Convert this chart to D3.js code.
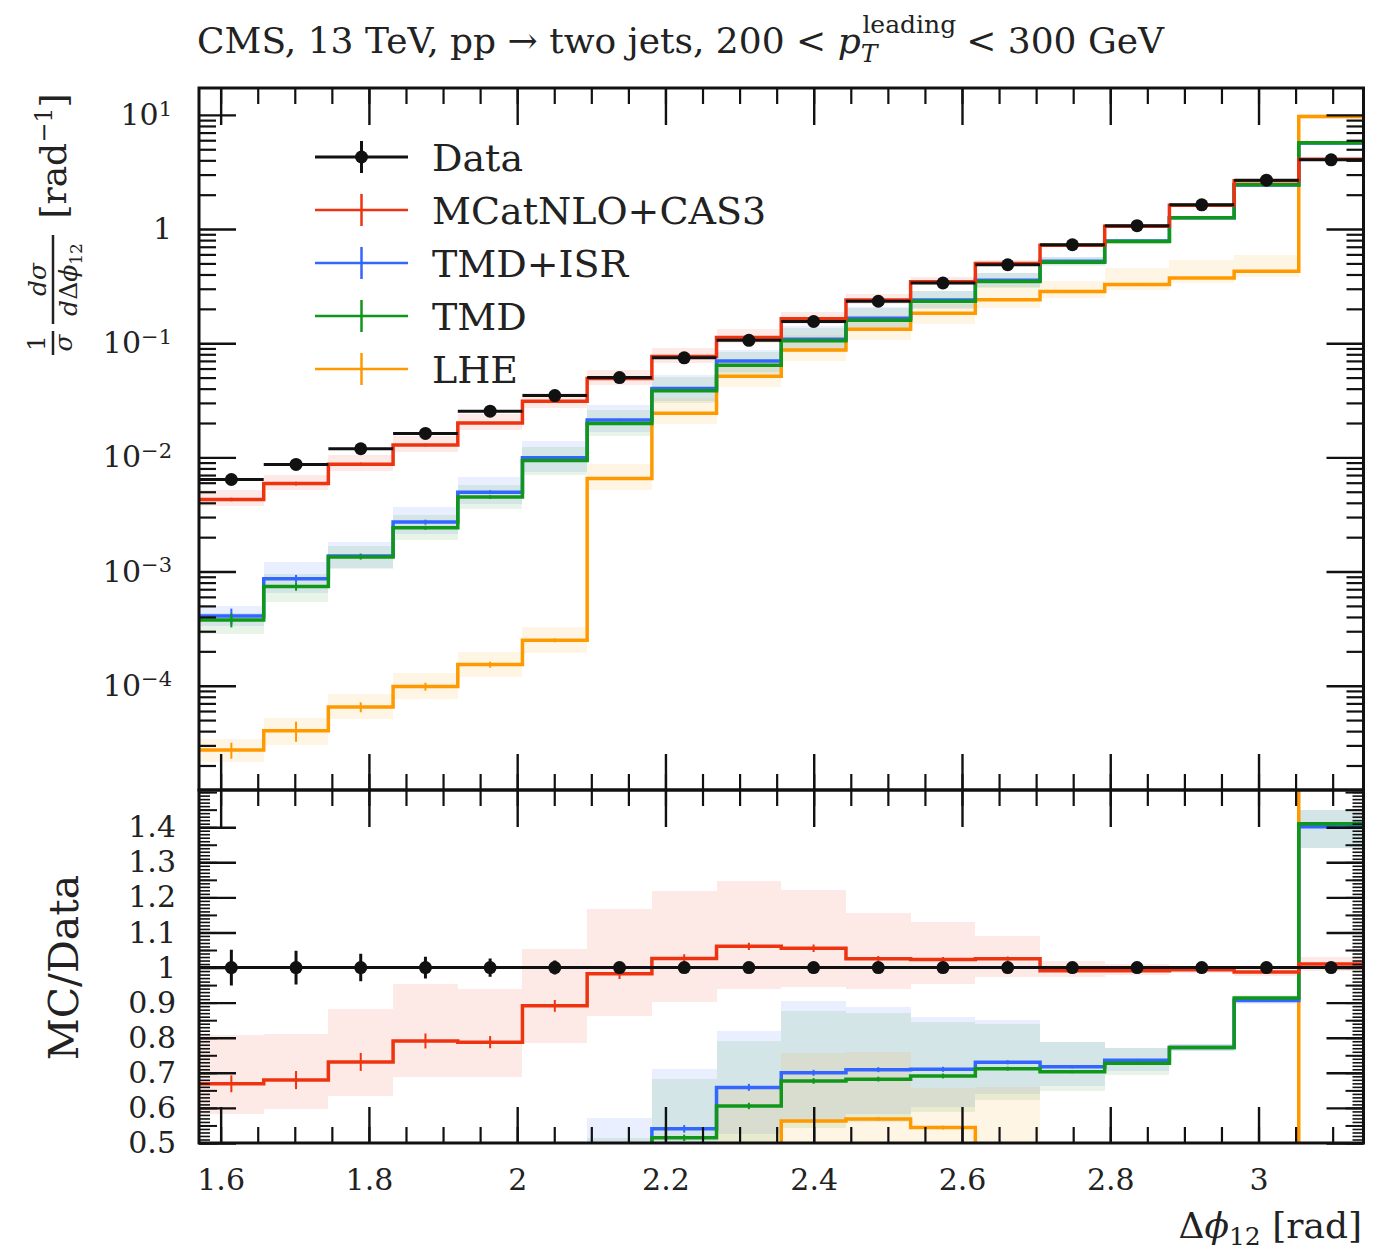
<!DOCTYPE html>
<html>
<head>
<meta charset="utf-8">
<script src="https://cdn.jsdelivr.net/npm/d3@7"></script>
<style>
  body { margin: 0; background: #fff; }
  svg text { font-family: "DejaVu Serif", "Liberation Serif", serif; fill: #222; white-space: pre; }
</style>
</head>
<body>
<div id="chart"></div>
<script>
var width = 1383,
    height = 1251;

var left = 199, right = 1363.5,
    plotTop = 88, mid = 790, plotBottom = 1143;

var colors =
  { red: "#EE3311",
    blue: "#3366FF",
    green: "#109618",
    orange: "#FF9900",
    black: "#111"
  };

// bin edges in delta phi (pi/2 .. pi, 18 bins)
var binEdges = [1.5708, 1.6581, 1.7453, 1.8326, 1.9199, 2.0071, 2.0944, 2.1817, 2.2689,
                2.3562, 2.4435, 2.5307, 2.6180, 2.7053, 2.7925, 2.8798, 2.9671, 3.0543, 3.1416];

// CMS data, 1/sigma dsigma/ddphi
var data = [0.0064, 0.00867, 0.0119, 0.0162, 0.0254, 0.0348, 0.0500, 0.0744, 0.106,
            0.155, 0.233, 0.337, 0.487, 0.729, 1.07, 1.63, 2.68, 4.04];
var dataErr = [0.051, 0.048, 0.039, 0.031, 0.026, 0.020, 0.015, 0.012, 0.010,
               0.010, 0.009, 0.008, 0.008, 0.006, 0.006, 0.006, 0.005, 0.005];

// MCatNLO+CAS3
var mcatnlo = [0.00428, 0.00589, 0.00870, 0.01281, 0.0200, 0.0310, 0.0491, 0.0763, 0.1124,
               0.1635, 0.2388, 0.3448, 0.4992, 0.7224, 1.0604, 1.6202, 2.6452, 4.080];
var mcatnloUp = [0.207, 0.193, 0.207, 0.205, 0.193, 0.182, 0.189, 0.188, 0.176,
                 0.158, 0.127, 0.105, 0.063, 0.029, 0.018, 0.010, 0.014, 0.020];
var mcatnloDn = [0.129, 0.122, 0.133, 0.131, 0.127, 0.120, 0.121, 0.121, 0.114,
                 0.105, 0.083, 0.068, 0.052, 0.019, 0.011, 0.010, 0.010, 0.019];
var mcatnloStat = [0.036, 0.038, 0.035, 0.027, 0.022, 0.019, 0.015, 0.012, 0.010,
                   0.010, 0.008, 0.007, 0.006, 0.005, 0.004, 0.004, 0.003, 0.003];

// TMD+ISR
var tmdIsr = [0.000408, 0.000865, 0.00137, 0.00271, 0.00496, 0.0099, 0.0212, 0.0402, 0.0698,
              0.1085, 0.1652, 0.2393, 0.3555, 0.5227, 0.7875, 1.2584, 2.428, 5.660];
var tmdIsrUp = [0.22, 0.40, 0.32, 0.35, 0.35, 0.40, 0.35, 0.317, 0.246,
                0.294, 0.251, 0.208, 0.164, 0.098, 0.049, 0.012, 0.010, 0.034];
var tmdIsrDn = [0.18, 0.25, 0.22, 0.22, 0.22, 0.25, 0.22, 0.22, 0.20,
                0.20, 0.18, 0.15, 0.125, 0.075, 0.041, 0.012, 0.010, 0.044];
var tmdIsrStat = [0.16, 0.08, 0.05, 0.05, 0.04, 0.03, 0.025, 0.02, 0.015,
                  0.012, 0.01, 0.01, 0.008, 0.006, 0.005, 0.004, 0.003, 0.003];

// TMD
var tmd = [0.000377, 0.000738, 0.00134, 0.00242, 0.00449, 0.0094, 0.0198, 0.0383, 0.0642,
           0.1049, 0.1589, 0.2329, 0.3467, 0.5125, 0.7779, 1.2584, 2.4468, 5.696];
var tmdUp = [0.15, 0.30, 0.25, 0.28, 0.28, 0.30, 0.30, 0.326, 0.304,
             0.295, 0.276, 0.223, 0.18, 0.12, 0.062, 0.012, 0.010, 0.028];
var tmdDn = [0.25, 0.26, 0.22, 0.22, 0.22, 0.25, 0.22, 0.22, 0.20,
             0.20, 0.18, 0.15, 0.125, 0.08, 0.045, 0.012, 0.010, 0.05];
var tmdStat = [0.14, 0.08, 0.05, 0.04, 0.035, 0.03, 0.02, 0.018, 0.015,
               0.012, 0.01, 0.01, 0.008, 0.006, 0.005, 0.004, 0.003, 0.003];

// LHE
var lhe = [0.0000273, 0.0000403, 0.0000650, 0.0000984, 0.000153, 0.000250, 0.00653, 0.0243, 0.0514,
           0.0872, 0.1325, 0.1833, 0.240, 0.284, 0.326, 0.372, 0.426, 9.66];
var lheUp = [0.25, 0.30, 0.30, 0.30, 0.30, 0.30, 0.35, 0.35, 0.35,
             0.346, 0.336, 0.21, 0.34, 0.24, 0.40, 0.45, 0.40, 0.05];
var lheDn = [0.22, 0.25, 0.22, 0.22, 0.22, 0.22, 0.20, 0.20, 0.20,
             0.20, 0.20, 0.20, 0.15, 0.12, 0.10, 0.10, 0.10, 0.05];
var lheStat = [0.16, 0.20, 0.10, 0.08, 0.06, 0.04, 0.02, 0.015, 0.012,
               0.01, 0.01, 0.01, 0.008, 0.006, 0.005, 0.004, 0.004, 0.003];

var xMajor = [1.6, 1.8, 2.0, 2.2, 2.4, 2.6, 2.8, 3.0];
var yDecades = [1e-4, 1e-3, 1e-2, 1e-1, 1, 10];
var decadeLabels = [["10", "\u22124"], ["10", "\u22123"], ["10", "\u22122"], ["10", "\u22121"], ["1", ""], ["10", "1"]];
var ratioMajor = [0.5, 0.6, 0.7, 0.8, 0.9, 1.0, 1.1, 1.2, 1.3, 1.4];

var series = [
  { name: "MCatNLO+CAS3", color: colors.red, vals: mcatnlo, up: mcatnloUp, dn: mcatnloDn, stat: mcatnloStat },
  { name: "TMD+ISR", color: colors.blue, vals: tmdIsr, up: tmdIsrUp, dn: tmdIsrDn, stat: tmdIsrStat },
  { name: "TMD", color: colors.green, vals: tmd, up: tmdUp, dn: tmdDn, stat: tmdStat },
  { name: "LHE", color: colors.orange, vals: lhe, up: lheUp, dn: lheDn, stat: lheStat }
];
// draw order of the lines (red ends on top)
var lineOrder = [3, 1, 2, 0];

var x = d3.scaleLinear().domain([binEdges[0], binEdges[binEdges.length - 1]]).range([left, right]);
var yTop = d3.scaleLog().domain([1.22e-5, 17.2]).range([mid, plotTop]);
var yRat = d3.scaleLinear().domain([0.5, 1.506]).range([plotBottom, mid]);

var svg = d3.select("#chart").append("svg")
    .attr("width", width)
    .attr("height", height);

svg.append("rect").attr("width", width).attr("height", height).attr("fill", "#fff");

var defs = svg.append("defs");
defs.append("clipPath").attr("id", "clipTop").append("rect")
    .attr("x", left).attr("y", plotTop).attr("width", right - left).attr("height", mid - plotTop);
defs.append("clipPath").attr("id", "clipRat").append("rect")
    .attr("x", left).attr("y", mid).attr("width", right - left).attr("height", plotBottom - mid);

var topG = svg.append("g").attr("clip-path", "url(#clipTop)");
var ratG = svg.append("g").attr("clip-path", "url(#clipRat)");

var binMid = function(i) { return (binEdges[i] + binEdges[i + 1]) / 2; };

var stepPoints = function(vals, fy) {
  var pts = [];
  vals.forEach(function(v, i) {
    pts.push([x(binEdges[i]), fy(v, i)]);
    pts.push([x(binEdges[i + 1]), fy(v, i)]);
  });
  return pts;
};
var line = d3.line();

// --- bands
series.forEach(function(s) {
  topG.append("g").selectAll("rect").data(s.vals).enter().append("rect")
      .attr("x", function(d, i) { return x(binEdges[i]); })
      .attr("width", function(d, i) { return x(binEdges[i + 1]) - x(binEdges[i]); })
      .attr("y", function(d, i) { return yTop(d * (1 + s.up[i])); })
      .attr("height", function(d, i) { return yTop(d * (1 - s.dn[i])) - yTop(d * (1 + s.up[i])); })
      .attr("shape-rendering", "crispEdges")
      .style("fill", s.color).style("opacity", 0.1);

  ratG.append("g").selectAll("rect").data(s.vals).enter().append("rect")
      .attr("x", function(d, i) { return x(binEdges[i]); })
      .attr("width", function(d, i) { return x(binEdges[i + 1]) - x(binEdges[i]); })
      .attr("y", function(d, i) { return yRat(d / data[i] * (1 + s.up[i])); })
      .attr("height", function(d, i) { return yRat(d / data[i] * (1 - s.dn[i])) - yRat(d / data[i] * (1 + s.up[i])); })
      .attr("shape-rendering", "crispEdges")
      .style("fill", s.color).style("opacity", 0.1);
});

// --- MC lines + stat ticks
lineOrder.forEach(function(k) {
  var s = series[k];
  topG.append("path")
      .attr("d", line(stepPoints(s.vals, function(v) { return yTop(v); })))
      .style("fill", "none").style("stroke", s.color).style("stroke-width", 3.5);
  topG.append("g").selectAll("line").data(s.vals).enter().append("line")
      .attr("x1", function(d, i) { return x(binMid(i)); })
      .attr("x2", function(d, i) { return x(binMid(i)); })
      .attr("y1", function(d, i) { return yTop(d * (1 - s.stat[i])); })
      .attr("y2", function(d, i) { return yTop(d * (1 + s.stat[i])); })
      .style("stroke", s.color).style("stroke-width", 2);

  ratG.append("path")
      .attr("d", line(stepPoints(s.vals, function(v, i) { return yRat(v / data[i]); })))
      .style("fill", "none").style("stroke", s.color).style("stroke-width", 3.5);
  ratG.append("g").selectAll("line").data(s.vals).enter().append("line")
      .attr("x1", function(d, i) { return x(binMid(i)); })
      .attr("x2", function(d, i) { return x(binMid(i)); })
      .attr("y1", function(d, i) { return yRat(d / data[i] * (1 - s.stat[i])); })
      .attr("y2", function(d, i) { return yRat(d / data[i] * (1 + s.stat[i])); })
      .style("stroke", s.color).style("stroke-width", 2);
});

// --- data
var dg = topG.append("g");
dg.selectAll("line.h").data(data).enter().append("line").attr("class", "h")
    .attr("x1", function(d, i) { return x(binEdges[i]); })
    .attr("x2", function(d, i) { return x(binEdges[i + 1]); })
    .attr("y1", function(d) { return yTop(d); })
    .attr("y2", function(d) { return yTop(d); })
    .style("stroke", colors.black).style("stroke-width", 3);
dg.selectAll("line.v").data(data).enter().append("line").attr("class", "v")
    .attr("x1", function(d, i) { return x(binMid(i)); })
    .attr("x2", function(d, i) { return x(binMid(i)); })
    .attr("y1", function(d, i) { return yTop(d * (1 - dataErr[i])); })
    .attr("y2", function(d, i) { return yTop(d * (1 + dataErr[i])); })
    .style("stroke", colors.black).style("stroke-width", 3);
dg.selectAll("circle").data(data).enter().append("circle")
    .attr("cx", function(d, i) { return x(binMid(i)); })
    .attr("cy", function(d) { return yTop(d); })
    .attr("r", 6.5)
    .style("fill", colors.black);

var rg = ratG.append("g");
rg.append("path")
    .attr("d", line(stepPoints(data, function() { return yRat(1); })))
    .style("fill", "none").style("stroke", colors.black).style("stroke-width", 3);
rg.selectAll("line").data(data).enter().append("line")
    .attr("x1", function(d, i) { return x(binMid(i)); })
    .attr("x2", function(d, i) { return x(binMid(i)); })
    .attr("y1", function(d, i) { return yRat(1 - dataErr[i]); })
    .attr("y2", function(d, i) { return yRat(1 + dataErr[i]); })
    .style("stroke", colors.black).style("stroke-width", 3);
rg.selectAll("circle").data(data).enter().append("circle")
    .attr("cx", function(d, i) { return x(binMid(i)); })
    .attr("cy", yRat(1))
    .attr("r", 6.5)
    .style("fill", colors.black);

// --- axes (ticks inside, mirrored on every side)
var addAxis = function(axis, tx, ty, sw) {
  var g = svg.append("g").attr("transform", "translate(" + tx + "," + ty + ")").call(axis);
  g.select(".domain").remove();
  g.attr("font-family", null).attr("font-size", 30);
  g.selectAll(".tick line").style("stroke", colors.black).style("stroke-width", sw);
  return g;
};

var xMinor = d3.range(32, 63).map(function(k) { return k * 0.05; });
var logMinor = [];
[1e-5, 1e-4, 1e-3, 1e-2, 1e-1, 1, 10].forEach(function(dec) {
  [2, 3, 4, 5, 6, 7, 8, 9].forEach(function(m) {
    var v = dec * m;
    if (v > yTop.domain()[0] && v < yTop.domain()[1]) logMinor.push(v);
  });
});
var ratMinor = d3.range(50, 151).map(function(k) { return k / 100; });
var ratMid = d3.range(10, 31).map(function(k) { return k * 0.05; });

[[plotTop, d3.axisTop], [mid, d3.axisBottom], [mid, d3.axisTop], [plotBottom, d3.axisBottom]].forEach(function(p) {
  addAxis(p[1](x).tickValues(xMinor).tickSizeInner(-16).tickSizeOuter(0).tickFormat(""), 0, p[0], 2.2);
});
addAxis(d3.axisTop(x).tickValues(xMajor).tickSizeInner(-37).tickSizeOuter(0).tickFormat(""), 0, plotTop, 2.4);
addAxis(d3.axisBottom(x).tickValues(xMajor).tickSizeInner(-36).tickSizeOuter(0).tickFormat(""), 0, mid, 2.4);
addAxis(d3.axisTop(x).tickValues(xMajor).tickSizeInner(-37).tickSizeOuter(0).tickFormat(""), 0, mid, 2.4);
var xLab = addAxis(d3.axisBottom(x).tickValues(xMajor).tickSizeInner(-36).tickSizeOuter(0).tickPadding(26)
    .tickFormat(function(d) { return String(+d.toFixed(1)); }), 0, plotBottom, 2.4);

// top panel y
addAxis(d3.axisLeft(yTop).tickValues(logMinor).tickSizeInner(-17).tickSizeOuter(0).tickFormat(""), left, 0, 2.2);
addAxis(d3.axisRight(yTop).tickValues(logMinor).tickSizeInner(-17).tickSizeOuter(0).tickFormat(""), right, 0, 2.2);
addAxis(d3.axisRight(yTop).tickValues(yDecades).tickSizeInner(-37).tickSizeOuter(0).tickFormat(""), right, 0, 2.4);
var yLab = addAxis(d3.axisLeft(yTop).tickValues(yDecades).tickSizeInner(-37).tickSizeOuter(0).tickPadding(27).tickFormat(""), left, 0, 2.4);
yLab.selectAll(".tick text").each(function(d, i) {
  var t = d3.select(this);
  var lab = decadeLabels[i];
  t.append("tspan").text(lab[0]);
  if (lab[1]) t.append("tspan").attr("dy", "-0.45em").attr("font-size", 21).text(lab[1]);
});

// ratio panel y
addAxis(d3.axisLeft(yRat).tickValues(ratMinor).tickSizeInner(-11).tickSizeOuter(0).tickFormat(""), left, 0, 1.6);
addAxis(d3.axisRight(yRat).tickValues(ratMinor).tickSizeInner(-11).tickSizeOuter(0).tickFormat(""), right, 0, 1.6);
addAxis(d3.axisLeft(yRat).tickValues(ratMid).tickSizeInner(-18).tickSizeOuter(0).tickFormat(""), left, 0, 2);
addAxis(d3.axisRight(yRat).tickValues(ratMid).tickSizeInner(-18).tickSizeOuter(0).tickFormat(""), right, 0, 2);
addAxis(d3.axisRight(yRat).tickValues(ratioMajor).tickSizeInner(-37).tickSizeOuter(0).tickFormat(""), right, 0, 2.4);
addAxis(d3.axisLeft(yRat).tickValues(ratioMajor).tickSizeInner(-37).tickSizeOuter(0).tickPadding(23)
    .tickFormat(function(d) { return String(+d.toFixed(1)); }), left, 0, 2.4);

// frames
svg.append("rect").attr("x", left).attr("y", plotTop).attr("width", right - left).attr("height", mid - plotTop)
    .style("fill", "none").style("stroke", colors.black).style("stroke-width", 3);
svg.append("rect").attr("x", left).attr("y", mid).attr("width", right - left).attr("height", plotBottom - mid)
    .style("fill", "none").style("stroke", colors.black).style("stroke-width", 3);

// --- legend
var legY = [157, 210, 263, 316, 369];
var leg = svg.append("g");
var legItems = [{ name: "Data", color: colors.black, dot: true }].concat(series);
legItems.forEach(function(s, i) {
  var y = legY[i];
  leg.append("line").attr("x1", 315).attr("x2", 408).attr("y1", y).attr("y2", y)
      .style("stroke", s.color).style("stroke-width", s.dot ? 3 : 2.5);
  leg.append("line").attr("x1", 361.5).attr("x2", 361.5).attr("y1", y - 16).attr("y2", y + 16)
      .style("stroke", s.color).style("stroke-width", s.dot ? 3 : 2.5);
  if (s.dot) leg.append("circle").attr("cx", 361.5).attr("cy", y).attr("r", 6.5).style("fill", s.color);
  leg.append("text").attr("x", 432).attr("y", y + 14).attr("font-size", 38).text(s.name);
});

// --- title
var title = svg.append("text").attr("x", 197).attr("y", 53).attr("font-size", 36);
title.append("tspan").text("CMS, 13 TeV, pp \u2192 two jets, 200 < ");
title.append("tspan").attr("font-style", "italic").text("p");
title.append("tspan").attr("font-style", "italic").attr("font-size", 25).attr("dy", 9).text("T");
title.append("tspan").attr("font-size", 25).attr("dx", -15).attr("dy", -29).text("leading");
title.append("tspan").attr("dx", 10).attr("dy", 20).text("< 300 GeV");

// --- y label, top panel
var yl = svg.append("g").attr("transform", "translate(66,0) rotate(-90)");
yl.append("text").attr("x", -343).attr("y", -21).attr("font-size", 25).attr("text-anchor", "middle").text("1");
yl.append("line").attr("x1", -355).attr("x2", -331).attr("y1", -13).attr("y2", -13)
    .style("stroke", "#222").style("stroke-width", 2.5);
yl.append("text").attr("x", -343).attr("y", 6).attr("font-size", 25).attr("text-anchor", "middle")
    .attr("font-style", "italic").text("\u03c3");
yl.append("text").attr("x", -279.5).attr("y", -20).attr("font-size", 25).attr("text-anchor", "middle")
    .attr("font-style", "italic").text("d\u03c3");
yl.append("line").attr("x1", -324).attr("x2", -235).attr("y1", -13).attr("y2", -13)
    .style("stroke", "#222").style("stroke-width", 2.5);
var den = yl.append("text").attr("x", -279.5).attr("y", 11).attr("font-size", 25).attr("text-anchor", "middle");
den.append("tspan").attr("font-style", "italic").text("d");
den.append("tspan").text("\u0394");
den.append("tspan").attr("font-style", "italic").text("\u03d5");
den.append("tspan").attr("font-size", 17).attr("dy", 5).text("12");
var unit = yl.append("text").attr("x", -156).attr("y", 0).attr("font-size", 36).attr("text-anchor", "middle");
unit.append("tspan").text("[rad");
unit.append("tspan").attr("font-size", 24).attr("dy", -14).text("\u22121");
unit.append("tspan").attr("dy", 14).text("]");

// --- y label, ratio panel
svg.append("text").attr("transform", "translate(78," + yRat(1) + ") rotate(-90)")
    .attr("text-anchor", "middle").attr("font-size", 41).text("MC/Data");

// --- x label
var xl = svg.append("text").attr("x", 1362).attr("y", 1238).attr("font-size", 36).attr("text-anchor", "end");
xl.append("tspan").text("\u0394");
xl.append("tspan").attr("font-style", "italic").text("\u03d5");
xl.append("tspan").attr("font-size", 25).attr("dy", 7).text("12");
xl.append("tspan").attr("dy", -7).text(" [rad]");
</script>
</body>
</html>
